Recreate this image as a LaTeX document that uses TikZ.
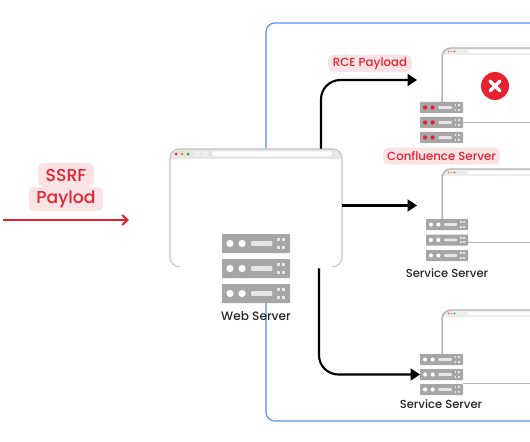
\documentclass[tikz,border=0pt]{standalone}
\usepackage{fontspec}
\setmainfont{Poppins Medium}
\usetikzlibrary{arrows.meta,positioning,calc}
\definecolor{alertred}{HTML}{E8212F}
\definecolor{alertpink}{HTML}{FAE3E4}
\definecolor{rackgrey}{HTML}{A6A6A6}
\definecolor{barlight}{HTML}{E6E6E6}
\definecolor{edgegrey}{HTML}{B4B4B4}
\definecolor{netblue}{HTML}{5F8BFA}
\tikzset{
  chipbox/.style={fill=alertpink, rounded corners=3pt, inner sep=0pt, text=alertred, font=\fontsize{#1}{#1}\selectfont},
  serverlabel/.style={text=black!85, inner sep=0pt, font=\fontsize{6.6}{7}\selectfont},
  rackbox/.style={fill=rackgrey, rounded corners=0.4pt, inner sep=0pt, outer sep=0pt, anchor=north west},
  flowarrow/.style={-{Triangle[length=1.9mm,width=2.4mm]}, line width=1.2pt, rounded corners=11pt},
  attackarrow/.style={-{Straight Barb[length=1.1mm,width=2mm]}, draw=alertred, line width=1.1pt},
  windowedge/.style={draw=edgegrey, line width=0.85pt}
}
% name, left, top, width, height, pitch, dot colour
\newcommand{\serverstack}[7]{%
  \foreach \unit/\row in {top/0,mid/1,bot/2}{%
    \begin{scope}[shift={(#2,#3+\row*#6)}]
      \node[rackbox, minimum width={#4*0.02cm}, minimum height={#5*0.02cm}] (#1\unit) at (0,0) {};
      \begin{scope}[x={#4*0.02cm}, y={-#5*0.02cm}]
        \fill[#7] (0.118,0.5) circle[radius={#5*0.0038cm}];
        \fill[#7] (0.294,0.5) circle[radius={#5*0.0038cm}];
        \fill[barlight, rounded corners=0.5pt] (0.43,0.37) rectangle (0.74,0.63);
        \foreach \gx in {0.825,0.91}{\foreach \gy in {0.3,0.7}{
          \fill[barlight] (\gx-0.022,\gy-0.08) rectangle (\gx+0.022,\gy+0.08);}}
      \end{scope}
    \end{scope}}%
}
% left, top of a window that runs off the page, bottom of its left edge
\newcommand{\sidewindow}[3]{%
  \fill[barlight!70] (#1,#2+7) -- (#1,#2+8) to[out=90,in=180] (#1+9,#2) -- (530,#2) -- (530,#2+7) -- cycle;
  \draw[windowedge] (#1,#3) -- (#1,#2+9) to[out=90,in=180] (#1+9,#2) -- (530,#2);
  \fill[alertred!80] (#1+6.5,#2+3.5) circle[radius=0.8];
  \fill[orange] (#1+9.5,#2+3.5) circle[radius=0.8];
  \fill[green!60!black] (#1+12.5,#2+3.5) circle[radius=0.8];
  \fill[white] (#1+26,#2+2) rectangle (530,#2+5);
}
\begin{document}
\begin{tikzpicture}[x=0.02cm, y=-0.02cm]
  \useasboundingbox (0,0) rectangle (530,442);
  \fill[white] (0,0) rectangle (530,442);

  % network frame
  \draw[netblue, line width=0.7pt, rounded corners=5pt] (530,23) -- (266,23) -- (266,421) -- (530,421);

  % web server
  \node[fill=white, inner sep=0pt, rounded corners=5pt, minimum width=3.44cm, minimum height=2.36cm] (webwin) at (256,208) {};
  \fill[white] (222,234) rectangle (290,303);
  \fill[barlight] (170,159) -- (170,158) to[out=90,in=180] (179,149) -- (333,149) to[out=0,in=90] (342,158) -- (342,159) -- cycle;
  \draw[barlight!85!black, line width=0.6pt] (180,267) to[out=180,in=-90] (170,257) -- (170,158) to[out=90,in=180] (179,149) -- (333,149) to[out=0,in=90] (342,158) -- (342,257) to[out=-90,in=0] (332,267);
  \fill[alertred] (176,154) circle[radius=1.5];
  \fill[orange] (182,154) circle[radius=1.5];
  \fill[green!60!black!80] (188,154) circle[radius=1.5];
  \draw[white, line width=0.5pt] (197,154) circle[radius=2.2];
  \draw[white, line width=0.5pt] (205,154) circle[radius=2.2];
  \fill[white, rounded corners=1pt] (212,151.5) rectangle (332,156.5);
  \serverstack{web}{222}{234}{68}{19}{25}{white}
  \node[serverlabel, font=\fontsize{6.9}{7}\selectfont] (weblabel) at (256,316) {Web Server};

  % confluence server
  \sidewindow{442}{48}{102}
  \draw[edgegrey, line width=0.5pt] (463,122) -- (530,122);
  \serverstack{conf}{420}{102}{43}{11}{15}{alertred}
  \node[circle, fill=alertred, inner sep=0pt, minimum size=0.56cm] (failmark) at (495,86) {};
  \draw[white, line width=1.9pt, line cap=round] ($(failmark)+(-5,-5)$) -- ($(failmark)+(5,5)$);
  \draw[white, line width=1.9pt, line cap=round] ($(failmark)+(-5,5)$) -- ($(failmark)+(5,-5)$);
  \node[chipbox=6.7, minimum width=2.34cm, minimum height=0.34cm] (conflabel) at (441.5,156) {Confluence Server};

  % service servers
  \sidewindow{442}{169}{219}
  \draw[edgegrey, line width=0.5pt] (468,242) -- (530,242);
  \serverstack{svcone}{426}{219}{42}{11}{15.5}{white}
  \node[serverlabel] (svconelabel) at (447,273) {Service Server};

  \sidewindow{442}{310}{354}
  \draw[edgegrey, line width=0.5pt] (463,383) -- (530,383);
  \serverstack{svctwo}{420}{354}{43}{11}{15}{white}
  \node[serverlabel] (svctwolabel) at (441,404) {Service Server};

  % payload labels
  \node[chipbox=9.8, minimum width=1.12cm, minimum height=0.48cm] (ssrflabel) at (66,175) {SSRF};
  \node[chipbox=9.8, minimum width=1.48cm, minimum height=0.48cm] (paylodlabel) at (66,199) {Paylod};
  \node[chipbox=6.7, minimum width=1.68cm, minimum height=0.34cm] (rcelabel) at (370,63.5) {RCE Payload};

  % connectors
  \coordinate (ssrfstart) at (3,220);
  \coordinate (ssrfend) at (129,220);
  \coordinate (rcetip) at (417,80);
  \coordinate (svconetip) at (417,205.5);
  \draw[attackarrow] (ssrfstart) -- (ssrfend);
  \draw[flowarrow] ([xshift=1.3cm]webwin.north) |- (rcetip);
  \draw[flowarrow] (webwin.east |- svconetip) -- (svconetip);
  \draw[flowarrow] ([xshift=1.26cm,yshift=-0.02cm]webwin.south) |- (svctwomid.west);
\end{tikzpicture}
\end{document}
